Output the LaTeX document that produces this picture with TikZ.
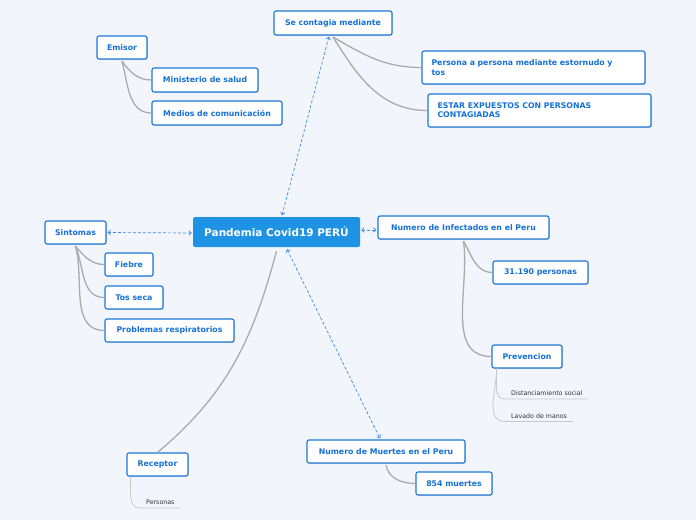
\documentclass[tikz,border=0pt]{standalone}
\usepackage{fontspec}
\setmainfont{DejaVu Sans}
\usetikzlibrary{arrows.meta,shadows}
\definecolor{bgc}{HTML}{F3F5FD}
\definecolor{bordc}{HTML}{1C78D8}
\definecolor{txtc}{HTML}{1671D6}
\definecolor{mainc}{HTML}{1E93E3}
\definecolor{linkc}{HTML}{ABABAB}
\definecolor{leafc}{HTML}{C8C8C8}
\definecolor{dashc}{HTML}{3D8BE0}
\tikzset{
  box/.style={draw=bordc, line width=1.1pt, fill=white, rounded corners=2pt,
    text=txtc, font=\fontsize{7.8}{9.2}\selectfont\bfseries, inner sep=0pt,
    drop shadow={shadow xshift=0.8pt, shadow yshift=-0.8pt, opacity=0.3}},
  mainbox/.style={fill=mainc, rounded corners=2pt, text=white,
    font=\fontsize{10.5}{12}\selectfont\bfseries, inner sep=0pt},
  twoline/.style={box, align=left, text width=#1, inner xsep=9.5pt},
  leaftext/.style={font=\fontsize{6.3}{7.5}\selectfont, text=black!80, inner xsep=6pt, inner ysep=3pt, anchor=south west},
  link/.style={draw=linkc, line width=1.3pt},
  leafline/.style={draw=leafc, line width=0.8pt},
  dashlink/.style={draw=dashc, line width=0.7pt, dash pattern=on 3pt off 2pt,
    {Straight Barb[length=2.5pt,width=4.5pt]}-{Straight Barb[length=2.5pt,width=4.5pt]}}
}
\begin{document}
\begin{tikzpicture}[x=1pt,y=-1pt]
\fill[bgc] (0,0) rectangle (696,520);
\useasboundingbox (0,0) rectangle (696,520);

\node[mainbox, minimum width=167pt, minimum height=30pt] (center) at (276.5,232) {Pandemia Covid19 PERÚ};

\node[box, minimum width=118pt, minimum height=24pt] (se) at (333,23) {Se contagia mediante};
\node[box, minimum width=50pt, minimum height=23pt] (emi) at (122,47.5) {Emisor};
\node[box, minimum width=106pt, minimum height=24pt] (min) at (205,80) {Ministerio de salud};
\node[box, minimum width=130pt, minimum height=24pt] (med) at (217,113) {Medios de comunicación};
\node[twoline=204pt, minimum height=33pt] (per) at (533.5,67.5) {Persona a persona mediante estornudo y\\tos};
\node[twoline=204pt, minimum height=33pt] (est) at (539.5,110.5) {ESTAR EXPUESTOS CON PERSONAS\\CONTAGIADAS};
\node[box, minimum width=61pt, minimum height=23pt] (sin) at (75.5,232.5) {Sintomas};
\node[box, minimum width=171pt, minimum height=23pt] (inf) at (463.5,227.5) {Numero de Infectados en el Peru};
\node[box, minimum width=48pt, minimum height=23pt] (fie) at (129,264.5) {Fiebre};
\node[box, minimum width=58pt, minimum height=23pt] (tos) at (134,297.5) {Tos seca};
\node[box, minimum width=129pt, minimum height=23pt] (pro) at (169.5,330.5) {Problemas respiratorios};
\node[box, minimum width=95pt, minimum height=23pt] (num) at (540.5,272.5) {31.190 personas};
\node[box, minimum width=70pt, minimum height=23pt] (prev) at (527,356.5) {Prevencion};
\node[box, minimum width=61pt, minimum height=23pt] (rec) at (157.5,464.5) {Receptor};
\node[box, minimum width=158pt, minimum height=23pt] (mue) at (386,451.5) {Numero de Muertes en el Peru};
\node[box, minimum width=76pt, minimum height=23pt] (ochos) at (454,483.5) {854 muertes};

\node[leaftext] (dist) at (505,399) {Distanciamiento social};
\node[leaftext] (lav) at (505,421.5) {Lavado de manos};
\node[leaftext] (pers) at (140,508) {Personas};

% gray links
\draw[link] ([yshift=-1.5pt]emi.south) to[out=-55,in=180] (min.west);
\draw[link] ([yshift=-1.5pt]emi.south) to[out=-75,in=180] (med.west);
\draw[link] ([yshift=-1.5pt]se.south) to[out=-30,in=180] (per.west);
\draw[link] ([yshift=-1.5pt]se.south) to[out=-58,in=180] (est.west);
\draw[link] ([yshift=-1.5pt]sin.south) to[out=-50,in=180] (fie.west);
\draw[link] ([yshift=-1.5pt]sin.south) to[out=-68,in=180] (tos.west);
\draw[link] ([yshift=-1.5pt]sin.south) to[out=-75,in=180] (pro.west);
\draw[link] ([yshift=-1.5pt]inf.south) to[out=-60,in=180] (num.west);
\draw[link] ([yshift=-1.5pt]inf.south) to[out=-82,in=180] (prev.west);
\draw[link] ([yshift=-4pt]center.south) to[out=-105,in=40] (rec.north);
\draw[link] ([yshift=-1.5pt]mue.south) to[out=-80,in=180] (ochos.west);

% leaf lines
\draw[leafline] ([xshift=5pt]prev.south west) to[out=-85,in=180] (dist.south west) -- (dist.south east);
\draw[leafline] ([xshift=5pt]prev.south west) to[out=-88,in=180] (lav.south west) -- (lav.south east);
\draw[leafline] ([xshift=4pt]rec.south west) to[out=-85,in=180] (pers.south west) -- (pers.south east);

% dashed arrows
\draw[dashlink] ([xshift=5.5pt,yshift=1.5pt]center.north) -- ([xshift=-4pt,yshift=-1pt]se.south);
\draw[dashlink] ([xshift=-1pt,yshift=-1pt]center.west) -- ([xshift=1pt]sin.east);
\draw[dashlink] ([xshift=1pt,yshift=2pt]center.east) -- ([xshift=-1pt,yshift=-2.5pt]inf.west);
\draw[dashlink] ([xshift=10.5pt,yshift=-2pt]center.south) -- ([xshift=-6pt,yshift=1pt]mue.north);
\end{tikzpicture}
\end{document}
